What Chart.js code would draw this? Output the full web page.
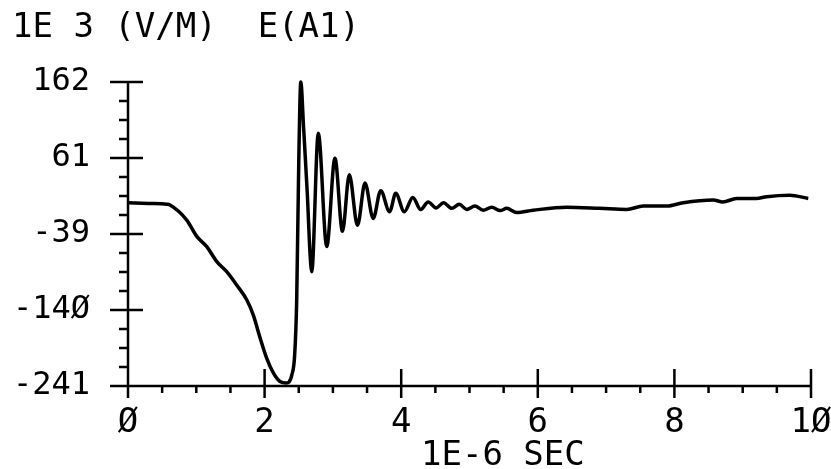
<!DOCTYPE html>
<html>
<head>
<meta charset="utf-8">
<script src="https://cdn.jsdelivr.net/npm/chart.js@4.4.1/dist/chart.umd.min.js"></script>
<style>
  html, body { margin: 0; padding: 0; background: #fff; }
  #wrap { width: 831px; height: 469px; position: relative; }
</style>
</head>
<body>
<div id="wrap"><canvas id="myChart"></canvas></div>
<script>
// time in 1E-6 sec, field in 1E3 V/M
const tValues = [0, 0.3, 0.57, 0.615, 0.86, 1.01, 1.15, 1.30, 1.445, 1.59, 1.74, 1.835, 1.93, 2.03, 2.13, 2.225, 2.32,
  2.40, 2.44, 2.47, 2.50, 2.53, 2.57, 2.625, 2.665, 2.69, 2.786, 2.91, 3.03, 3.14, 3.24, 3.36, 3.47, 3.59, 3.70,
  3.83, 3.92, 4.045, 4.17, 4.285, 4.395, 4.51, 4.62, 4.74, 4.85, 4.96, 5.08, 5.20, 5.325, 5.45, 5.545, 5.69,
  5.93, 6.42, 6.91, 7.30, 7.545, 7.89, 8.13, 8.57, 8.71, 8.91, 9.20, 9.35, 9.69, 9.96];
const eValues = [2, 1, 0, -1, -21, -43, -56, -76, -89.5, -107, -127, -147, -176, -204, -224, -235, -237,
  -226, -200, -127, 55, 162, 103, 14.5, -65, -89.5, 94, -56, 61, -36, 39, -28, 28, -19, 18,
  -10, 14.5, -10, 9, -7, 3, -5, 2, -5.5, 0, -7, -2.5, -8, -4, -8.5, -5.5, -11,
  -8, -4, -5.5, -7, -2.5, -2.5, 2, 5.5, 3, 7.5, 7.5, 10, 12, 7.5];

const xTicks = [0, 2, 4, 6, 8, 10];
const xTickLabels = ['Ø', '2', '4', '6', '8', '1Ø'];
const yMin = -241;
const yMax = 162;
const yTickLabels = ['-241', '-14Ø', '-39', '61', '162'];

const FONT = '"DejaVu Sans Mono", monospace';

//draws the plotter style axes with crossing major ticks and minor ticks
const plotterAxes = {
  id: 'plotterAxes',
  beforeDatasetsDraw(chart) {
    const { ctx, chartArea: a, scales: { x, y } } = chart;
    ctx.save();
    ctx.strokeStyle = '#000';
    ctx.lineWidth = 2.5;
    ctx.beginPath();
    ctx.moveTo(a.left, a.top);
    ctx.lineTo(a.left, a.bottom);
    ctx.lineTo(a.right, a.bottom);
    // y major + minor
    const yStep = (yMax - yMin) / 16;
    for (let i = 0; i <= 16; i++) {
      const py = y.getPixelForValue(yMin + i * yStep);
      if (i % 4 === 0) {
        ctx.moveTo(a.left - 18, py); ctx.lineTo(a.left + 15, py);
      } else {
        ctx.moveTo(a.left - 9, py); ctx.lineTo(a.left, py);
      }
    }
    // x major + minor
    for (let i = 0; i <= 20; i++) {
      const px = x.getPixelForValue(i * 0.5);
      if (i % 4 === 0) {
        ctx.moveTo(px, a.bottom - 17); ctx.lineTo(px, a.bottom + 12);
      } else {
        ctx.moveTo(px, a.bottom); ctx.lineTo(px, a.bottom + 7);
      }
    }
    ctx.stroke();
    ctx.restore();
  },
  afterDraw(chart) {
    const { ctx } = chart;
    ctx.save();
    ctx.fillStyle = '#000';
    ctx.font = '34px ' + FONT;
    ctx.textBaseline = 'alphabetic';
    ctx.textAlign = 'left';
    ctx.fillText('1E 3 (V/M)  E(A1)', 12, 37);
    ctx.fillText('1E-6 SEC', 421, 465);
    ctx.restore();
  }
};

const chartData = {
  datasets: [{
    data: tValues.map((t, i) => ({ x: t, y: eValues[i] })),
    borderColor: '#000',
    borderWidth: 3.5,
    pointRadius: 0,
    cubicInterpolationMode: 'monotone',
    fill: false,
    clip: 8
  }]
};

const chartConfig = {
  type: 'line',
  data: chartData,
  options: {
    responsive: true,
    maintainAspectRatio: false,
    animation: false,
    layout: { padding: { left: 0, right: 20, top: 82, bottom: 0 } },
    plugins: { legend: { display: false }, tooltip: { enabled: false } },
    scales: {
      x: {
        type: 'linear',
        min: 0,
        max: 10,
        afterBuildTicks: s => { s.ticks = xTicks.map(v => ({ value: v })); },
        afterFit: s => { s.height = 83; s.paddingLeft = 0; s.paddingRight = 0; },
        grid: { display: false, drawTicks: false },
        border: { display: false },
        ticks: {
          color: '#000',
          font: { family: FONT, size: 34 },
          padding: 17,
          maxRotation: 0,
          autoSkip: false,
          callback: (v, i) => xTickLabels[i]
        }
      },
      y: {
        type: 'linear',
        min: yMin,
        max: yMax,
        afterBuildTicks: s => {
          s.ticks = yTickLabels.map((l, i) => ({ value: yMin + i * (yMax - yMin) / 4 }));
        },
        afterFit: s => { s.width = 128; s.paddingTop = 0; s.paddingBottom = 0; },
        grid: { display: false, drawTicks: false },
        border: { display: false },
        ticks: {
          color: '#000',
          font: { family: FONT, size: 32 },
          padding: 38,
          autoSkip: false,
          callback: (v, i) => yTickLabels[i]
        }
      }
    }
  },
  plugins: [plotterAxes]
};

const myChart = new Chart(document.getElementById('myChart'), chartConfig);
</script>
</body>
</html>
